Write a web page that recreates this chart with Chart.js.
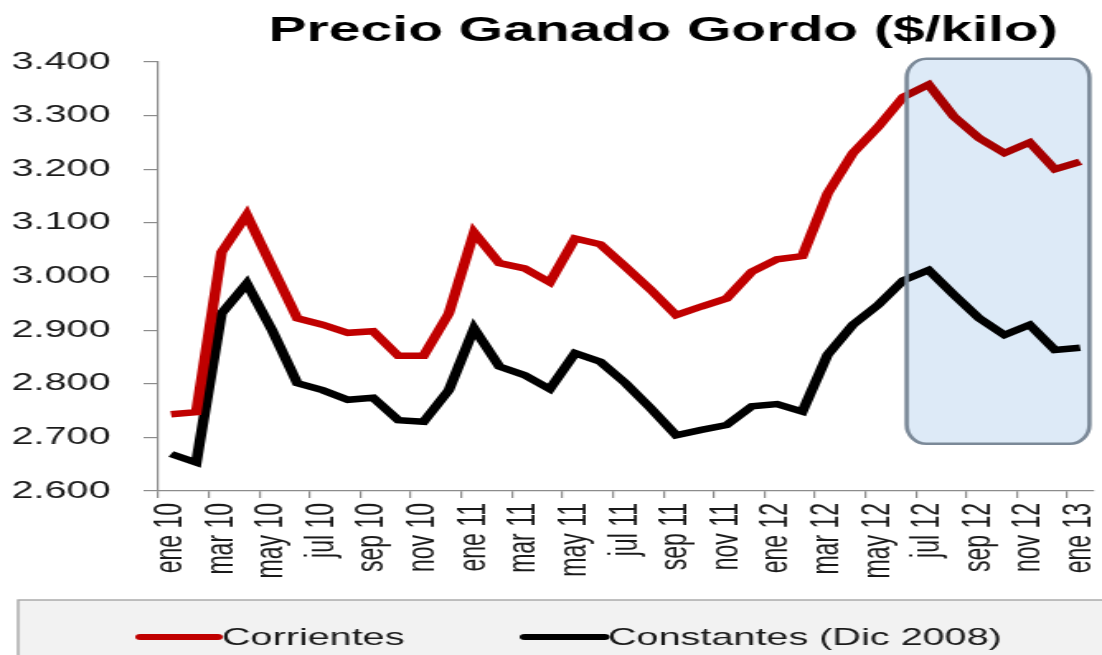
<!DOCTYPE html>
<html>
<head>
<meta charset="utf-8">
<title>Precio Ganado Gordo</title>
<script src="https://cdn.jsdelivr.net/npm/chart.js@4.4.1/dist/chart.umd.min.js"></script>
<style>
  html, body { margin: 0; padding: 0; background: #fff; overflow: hidden; }
  #chart { display: block; }
</style>
</head>
<body>
<!-- the original picture is stretched sideways, so the canvas is drawn narrow and widened by its inline style -->
<canvas id="chart" width="668" height="655" style="width:1102px;height:655px"></canvas>
<script>
const months = ['ene', 'feb', 'mar', 'abr', 'may', 'jun', 'jul', 'ago', 'sep', 'oct', 'nov', 'dic'];
const labels = [];
['10', '11', '12'].forEach(y => months.forEach(m => labels.push(m + ' ' + y)));
labels.push('ene 13');

// $/kilo
const corrientes = [2743, 2747, 3045, 3115, 3018, 2922, 2910, 2895, 2898, 2852, 2852, 2931,
  3082, 3025, 3015, 2989, 3071, 3060, 3018, 2975, 2928, 2944, 2959, 3009,
  3032, 3038, 3155, 3230, 3279, 3335, 3358, 3298, 3258, 3230, 3250, 3200, 3214];
const constantes = [2669, 2653, 2931, 2987, 2900, 2801, 2788, 2770, 2774, 2732, 2729, 2788,
  2903, 2832, 2816, 2790, 2857, 2841, 2801, 2754, 2704, 2714, 2723, 2758,
  2762, 2748, 2854, 2910, 2947, 2993, 3012, 2966, 2922, 2891, 2910, 2863, 2867];

const yMin = 2600, yMax = 3400, yStep = 100;
const titleText = 'Precio Ganado Gordo ($/kilo)';
// highlighted stretch: from jun 12 to the end
const boxFrom = 29, boxTop = 3406, boxBottom = 2688;

const FONT = 'Liberation Sans, Arial, sans-serif';
Chart.defaults.font.family = FONT;
Chart.defaults.color = '#1a1a1a';

const fmt = v => Math.floor(v / 1000) + '.' + String(v % 1000).padStart(3, '0');

const titlePlugin = {
  id: 'titleText',
  afterDraw(chart) {
    const ctx = chart.ctx;
    ctx.save();
    ctx.font = 'bold 34.6px ' + FONT;
    ctx.fillStyle = '#000';
    ctx.textAlign = 'center';
    ctx.textBaseline = 'alphabetic';
    ctx.fillText(titleText, 402, 41);
    ctx.restore();
  }
};

const boxPlugin = {
  id: 'highlight',
  afterDatasetsDraw(chart) {
    const {ctx, scales: {x, y}, chartArea} = chart;
    const left = x.getPixelForValue(boxFrom) + 2;
    const right = chartArea.right - 2;
    const top = y.getPixelForValue(boxTop);
    const bottom = y.getPixelForValue(boxBottom);
    const r = [{x: 12, y: 19}];
    ctx.save();
    ctx.beginPath();
    ctx.roundRect(left, top, right - left, bottom - top, r);
    ctx.globalCompositeOperation = 'multiply';
    ctx.fillStyle = 'rgb(221,234,247)';
    ctx.fill();
    ctx.globalCompositeOperation = 'source-over';
    ctx.lineWidth = 2.6;
    ctx.strokeStyle = '#7b8998';
    ctx.stroke();
    ctx.restore();
  }
};

const legendPlugin = {
  id: 'bottomLegend',
  afterDraw(chart) {
    const ctx = chart.ctx;
    const items = [
      {x0: 85, x1: 132, tx: 134.5},
      {x0: 318, x1: 366.5, tx: 368.5}
    ];
    ctx.save();
    ctx.fillStyle = '#f2f2f2';
    ctx.strokeStyle = '#a6a6a6';
    ctx.lineWidth = 1.4;
    ctx.fillRect(11, 600, 700, 80);
    ctx.strokeRect(11, 600, 700, 80);
    ctx.font = '24px ' + FONT;
    ctx.textBaseline = 'middle';
    chart.data.datasets.forEach((ds, i) => {
      const it = items[i];
      ctx.beginPath();
      ctx.moveTo(it.x0, 637);
      ctx.lineTo(it.x1, 637);
      ctx.strokeStyle = ds.borderColor;
      ctx.lineWidth = 6;
      ctx.lineCap = 'round';
      ctx.stroke();
      ctx.fillStyle = '#1a1a1a';
      ctx.fillText(ds.label, it.tx, 638);
    });
    ctx.restore();
  }
};

new Chart(document.getElementById('chart'), {
  type: 'line',
  data: {
    labels: labels,
    datasets: [
      {
        label: 'Corrientes',
        data: corrientes,
        borderColor: '#c00000',
        backgroundColor: '#c00000',
        borderWidth: 6.5,
        pointRadius: 0,
        tension: 0
      },
      {
        label: 'Constantes (Dic 2008)',
        data: constantes,
        borderColor: '#000000',
        backgroundColor: '#000000',
        borderWidth: 6.5,
        pointRadius: 0,
        tension: 0
      }
    ]
  },
  options: {
    responsive: false,
    animation: false,
    layout: { padding: { left: 7, right: 5.6, top: 62, bottom: 71.6 } },
    plugins: {
      legend: { display: false },
      title: { display: false },
      tooltip: { enabled: false }
    },
    scales: {
      x: {
        offset: true,
        border: { color: '#8c8c8c', width: 1.2 },
        grid: {
          offset: true,
          drawOnChartArea: false,
          tickLength: 7,
          color: ctx => (ctx.index % 2 === 0 ? '#8c8c8c' : 'rgba(0,0,0,0)'),
          lineWidth: 1.2
        },
        ticks: {
          autoSkip: false,
          maxRotation: 90,
          minRotation: 90,
          padding: 5,
          font: { size: 23 },
          color: '#1a1a1a',
          callback: (v, i) => (i % 2 === 0 ? labels[i] : '')
        },
        afterFit: s => { s.paddingLeft = 0; s.paddingRight = 0; }
      },
      y: {
        min: yMin,
        max: yMax,
        border: { color: '#8c8c8c', width: 1.2 },
        grid: {
          drawOnChartArea: false,
          tickLength: 9,
          color: '#8c8c8c',
          lineWidth: 1.2
        },
        ticks: {
          stepSize: yStep,
          padding: 20,
          font: { size: 24 },
          color: '#1a1a1a',
          callback: v => fmt(v)
        },
        afterFit: s => { s.width = 89; }
      }
    }
  },
  plugins: [boxPlugin, titlePlugin, legendPlugin]
});
</script>
</body>
</html>
